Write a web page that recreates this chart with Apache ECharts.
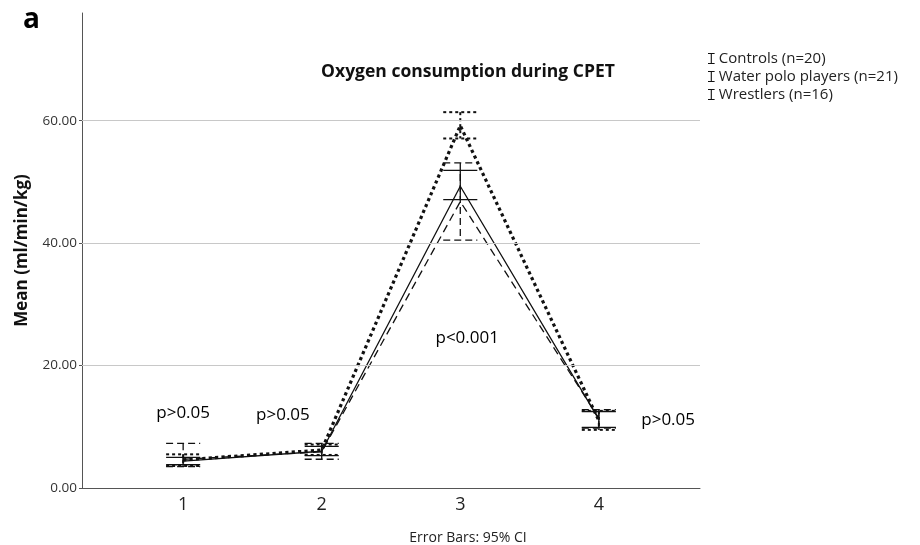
<!DOCTYPE html>
<html lang="en">
<head>
    <meta charset="UTF-8">
    <title>Oxygen consumption during CPET</title>
    <script src="https://cdn.jsdelivr.net/npm/echarts@6.0.0/dist/echarts.min.js"></script>
    <style>
        html, body { margin: 0; padding: 0; background: #fff; }
        #container { width: 920px; height: 545px; }
    </style>
</head>
<body>
<div id="container"></div>
<script>
    // test stages on the x axis
    var stages = [1, 2, 3, 4];
    var gridTicks = [20, 40, 60];

    // means and 95% CI
    var controlsMean = [4.4, 6.0, 49.3, 11.2];
    var controlsLow  = [3.8, 5.3, 47.1, 9.9];
    var controlsHigh = [5.0, 6.8, 51.9, 12.5];

    var poloMean = [4.6, 6.2, 59.2, 11.0];
    var poloLow  = [3.6, 5.4, 57.1, 9.5];
    var poloHigh = [5.5, 7.1, 61.4, 12.6];

    var wrestMean = [4.7, 5.9, 46.8, 11.4];
    var wrestLow  = [3.5, 4.7, 40.5, 9.8];
    var wrestHigh = [7.3, 7.3, 53.1, 12.8];

    // p-value notes: [x, y, text]
    var pNotes = [
        [1.0, 12.3, 'p>0.05'],
        [1.72, 11.9, 'p>0.05'],
        [3.05, 24.5, 'p<0.001'],
        [4.5, 11.1, 'p>0.05']
    ];

    var FONT = '"Open Sans", "DejaVu Sans", sans-serif';
    var myChart = echarts.init(document.getElementById('container'));

    function points(mean) {
        return stages.map(function (x, i) { return [x, mean[i]]; });
    }
    function bars(lo, hi) {
        return stages.map(function (x, i) { return [x, lo[i], hi[i]]; });
    }

    // error bar: stem + two caps
    function errorBar(name, data, style) {
        return {
            type: 'custom',
            name: name,
            data: data,
            z: 4,
            silent: true,
            renderItem: function (params, api) {
                var x = api.value(0);
                var top = api.coord([x, api.value(2)]);
                var bot = api.coord([x, api.value(1)]);
                var hw = api.size([0.123, 0])[0];
                var st = {
                    stroke: '#111',
                    lineWidth: style.width,
                    lineDash: style.dash,
                    fill: null
                };
                return {
                    type: 'group',
                    children: [
                        {type: 'line', shape: {x1: top[0], y1: top[1], x2: bot[0], y2: bot[1]}, style: st},
                        {type: 'line', shape: {x1: top[0] - hw, y1: top[1], x2: top[0] + hw, y2: top[1]}, style: st},
                        {type: 'line', shape: {x1: bot[0] - hw, y1: bot[1], x2: bot[0] + hw, y2: bot[1]}, style: st}
                    ]
                };
            },
            encode: {x: 0, y: [1, 2]}
        };
    }

    var ibeam = 'path://M0,0H6V1H3.5V9H6V10H0V9H2.5V1H0Z';

    var option = {
        animation: false,
        backgroundColor: '#fff',
        textStyle: {fontFamily: FONT},
        title: [{
            text: 'Oxygen consumption during CPET',
            left: 463, top: 58, textAlign: 'center',
            textStyle: {fontFamily: FONT, fontSize: 17.5, fontWeight: 'bold', color: '#111'}
        }, {
            text: 'Error Bars: 95% CI',
            left: 463, top: 526, textAlign: 'center',
            textStyle: {fontFamily: FONT, fontSize: 14, fontWeight: 'normal', color: '#222'}
        }, {
            text: 'a',
            left: 18, top: 1,
            textStyle: {fontFamily: FONT, fontSize: 28, fontWeight: 'bold', color: '#000'}
        }],
        legend: {
            orient: 'vertical',
            left: 703, top: 45,
            itemWidth: 7, itemHeight: 11, itemGap: 1,
            data: [
                {name: 'Controls (n=20)', icon: ibeam},
                {name: 'Water polo players (n=21)', icon: ibeam},
                {name: 'Wrestlers (n=16)', icon: ibeam}
            ],
            textStyle: {fontFamily: FONT, fontSize: 15, lineHeight: 17, color: '#222', padding: [0, 0, 0, -1]}
        },
        grid: {left: 82, right: 220, top: 13, bottom: 57},
        xAxis: {
            type: 'value',
            min: 0.27, max: 4.73,
            splitLine: {show: false},
            axisLine: {lineStyle: {color: '#555', width: 1}},
            axisTick: {show: false},
            axisLabel: {
                customValues: stages,
                fontFamily: FONT, fontSize: 18, color: '#222', margin: 8
            }
        },
        yAxis: {
            type: 'value',
            min: 0, max: 77.6, interval: 20,
            name: 'Mean (ml/min/kg)',
            nameLocation: 'middle',
            nameGap: 51,
            nameTextStyle: {fontFamily: FONT, fontSize: 17, fontWeight: 'bold', color: '#111'},
            splitLine: {show: false},
            axisLine: {show: true, lineStyle: {color: '#555', width: 1}},
            axisTick: {show: true, length: 3, lineStyle: {color: '#555'}},
            axisLabel: {
                showMaxLabel: false,
                formatter: function (v) { return v.toFixed(2); },
                fontFamily: FONT, fontSize: 13.5, color: '#333', margin: 5
            }
        },
        series: [{
            // grid lines
            type: 'line', data: [], z: 0, silent: true,
            markLine: {
                silent: true, symbol: 'none', animation: false,
                label: {show: false},
                lineStyle: {color: '#c8c8c8', type: 'solid', width: 1},
                data: gridTicks.map(function (v) { return {yAxis: v}; })
            }
        }, {
            type: 'line', name: 'Controls (n=20)',
            data: points(controlsMean),
            symbol: 'none', z: 3,
            itemStyle: {color: '#111'},
            lineStyle: {color: '#111', width: 1.3, type: 'solid'}
        }, {
            type: 'line', name: 'Water polo players (n=21)',
            data: points(poloMean),
            symbol: 'none', z: 3,
            itemStyle: {color: '#111'},
            lineStyle: {color: '#111', width: 3.2, type: 'dotted'}
        }, {
            type: 'line', name: 'Wrestlers (n=16)',
            data: points(wrestMean),
            symbol: 'none', z: 3,
            itemStyle: {color: '#111'},
            lineStyle: {color: '#111', width: 1.3, type: [8, 5]}
        },
            errorBar('Controls (n=20)', bars(controlsLow, controlsHigh), {width: 1.3, dash: null}),
            errorBar('Water polo players (n=21)', bars(poloLow, poloHigh), {width: 2, dash: [3, 3]}),
            errorBar('Wrestlers (n=16)', bars(wrestLow, wrestHigh), {width: 1.3, dash: [7, 4]}),
        {
            // p-value notes
            type: 'scatter', silent: true, z: 5,
            symbolSize: 0,
            itemStyle: {opacity: 1},
            data: pNotes.map(function (p) { return {value: [p[0], p[1]], note: p[2]}; }),
            label: {
                show: true, position: 'inside', opacity: 1,
                formatter: function (d) { return d.data.note; },
                fontFamily: FONT, fontSize: 17, color: '#000'
            }
        }]
    };

    myChart.setOption(option);
</script>
</body>
</html>
